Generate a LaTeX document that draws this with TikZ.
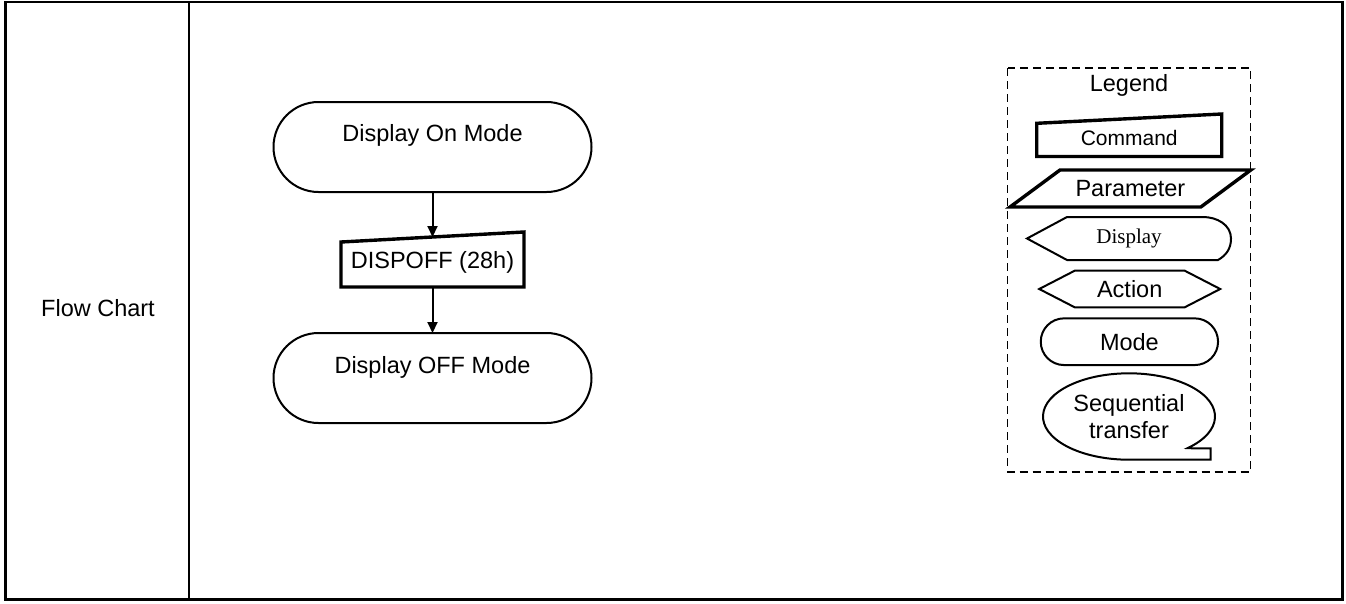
\documentclass[tikz,border=0pt]{standalone}
\usepackage{fontspec}
\setmainfont{Liberation Sans}
\newfontfamily\timesf{Liberation Serif}
\usetikzlibrary{arrows.meta,calc}
\begin{document}
\begin{tikzpicture}[x=1pt,y=1pt,
  every node/.style={inner sep=0pt, outer sep=0pt, font=\fontsize{23.5}{26.7}\selectfont},
  thinline/.style={line width=2pt},
  thickline/.style={line width=3.4pt, line join=miter},
  conn/.style={line width=2pt, -{Triangle[width=10pt,length=11pt]}},
  modebox/.style={draw, thinline, rounded corners=45pt, minimum width=318pt, minimum height=90pt, text height=17pt},
  cmdbox/.style={minimum width=183pt, minimum height=50pt},
  legendframe/.style={line width=1.8pt, dash pattern=on 8pt off 5pt}
]
\useasboundingbox (0,0) rectangle (1346,-603);
% table frame
\draw[line width=2.5pt] (5.5,-2) rectangle (1342.5,-599.5);
\draw[line width=2.5pt] (189,-2) -- (189,-599.5);
\node (fc) at (98,-308) {Flow Chart};

% flow
\node[modebox, text depth=28.2pt] (on) at (432.5,-147) {Display On Mode};
\node[cmdbox] (cmd) at (432.5,-262) {DISPOFF (28h)};
\draw[thickline] ([yshift=-5pt]cmd.north west) -- ([yshift=5pt]cmd.north east) -- (cmd.south east) -- (cmd.south west) -- cycle;
\node[modebox, text depth=26.2pt] (off) at (432.5,-378) {Display OFF Mode};
\draw[conn] (on.south) -- (cmd.north);
\draw[conn] (cmd.south) -- (off.north);

% legend
\draw[legendframe] (1007.5,-68) rectangle (1250.5,-472);
\node (lg) at (1129,-85) {Legend};

\node[font=\fontsize{21}{24}\selectfont, minimum width=185pt, minimum height=38pt] (lc) at (1129.2,-137.5) {Command};
\draw[thickline] (lc.south west) -- (lc.south east) -- ([yshift=4.5pt]lc.north east) -- ([yshift=-4.8pt]lc.north west) -- cycle;

\node[minimum width=190.8pt, minimum height=37pt] (lp) at (1130.4,-188.5) {Parameter};
\draw[thickline] ([xshift=-25pt]lp.south west) -- ([xshift=-25pt]lp.south east) -- ([xshift=25pt]lp.north east) -- ([xshift=25pt]lp.north west) -- cycle;

\node[font=\timesf\fontsize{21}{24}\selectfont, minimum width=204pt, minimum height=43pt] (ld) at (1129,-238.5) {Display};
\draw[thinline, shift={(ld.center)}] (-62,21.5) -- (-102,0) -- (-62,-21.5) -- (89,-21.5) to[out=30,in=-90] (102,0) to[out=90,in=0] (74,21.5) -- cycle;

\node[minimum width=181pt, minimum height=36.6pt] (la) at (1129.7,-289) {Action};
\draw[thinline, shift={(la.center)}] (-90.5,0) -- (-55,18.3) -- (55,18.3) -- (90.5,0) -- (55,-18.3) -- (-55,-18.3) -- cycle;

\node[draw, thinline, rounded corners=23.3pt, minimum width=177.3pt, minimum height=46.7pt] (lm) at (1129.4,-341.7) {Mode};

\node[align=center, minimum width=172pt, minimum height=86pt] (ls) at (1129,-416.5) {Sequential\\transfer};
\draw[thinline, shift={(ls.center)}] (-47:86 and 43.2) arc[start angle=-47, end angle=270, x radius=86, y radius=43.2] -- (81.7,-43.2) -- (81.7,-31.8) -- (63.7,-31.8) -- cycle;
\end{tikzpicture}
\end{document}
